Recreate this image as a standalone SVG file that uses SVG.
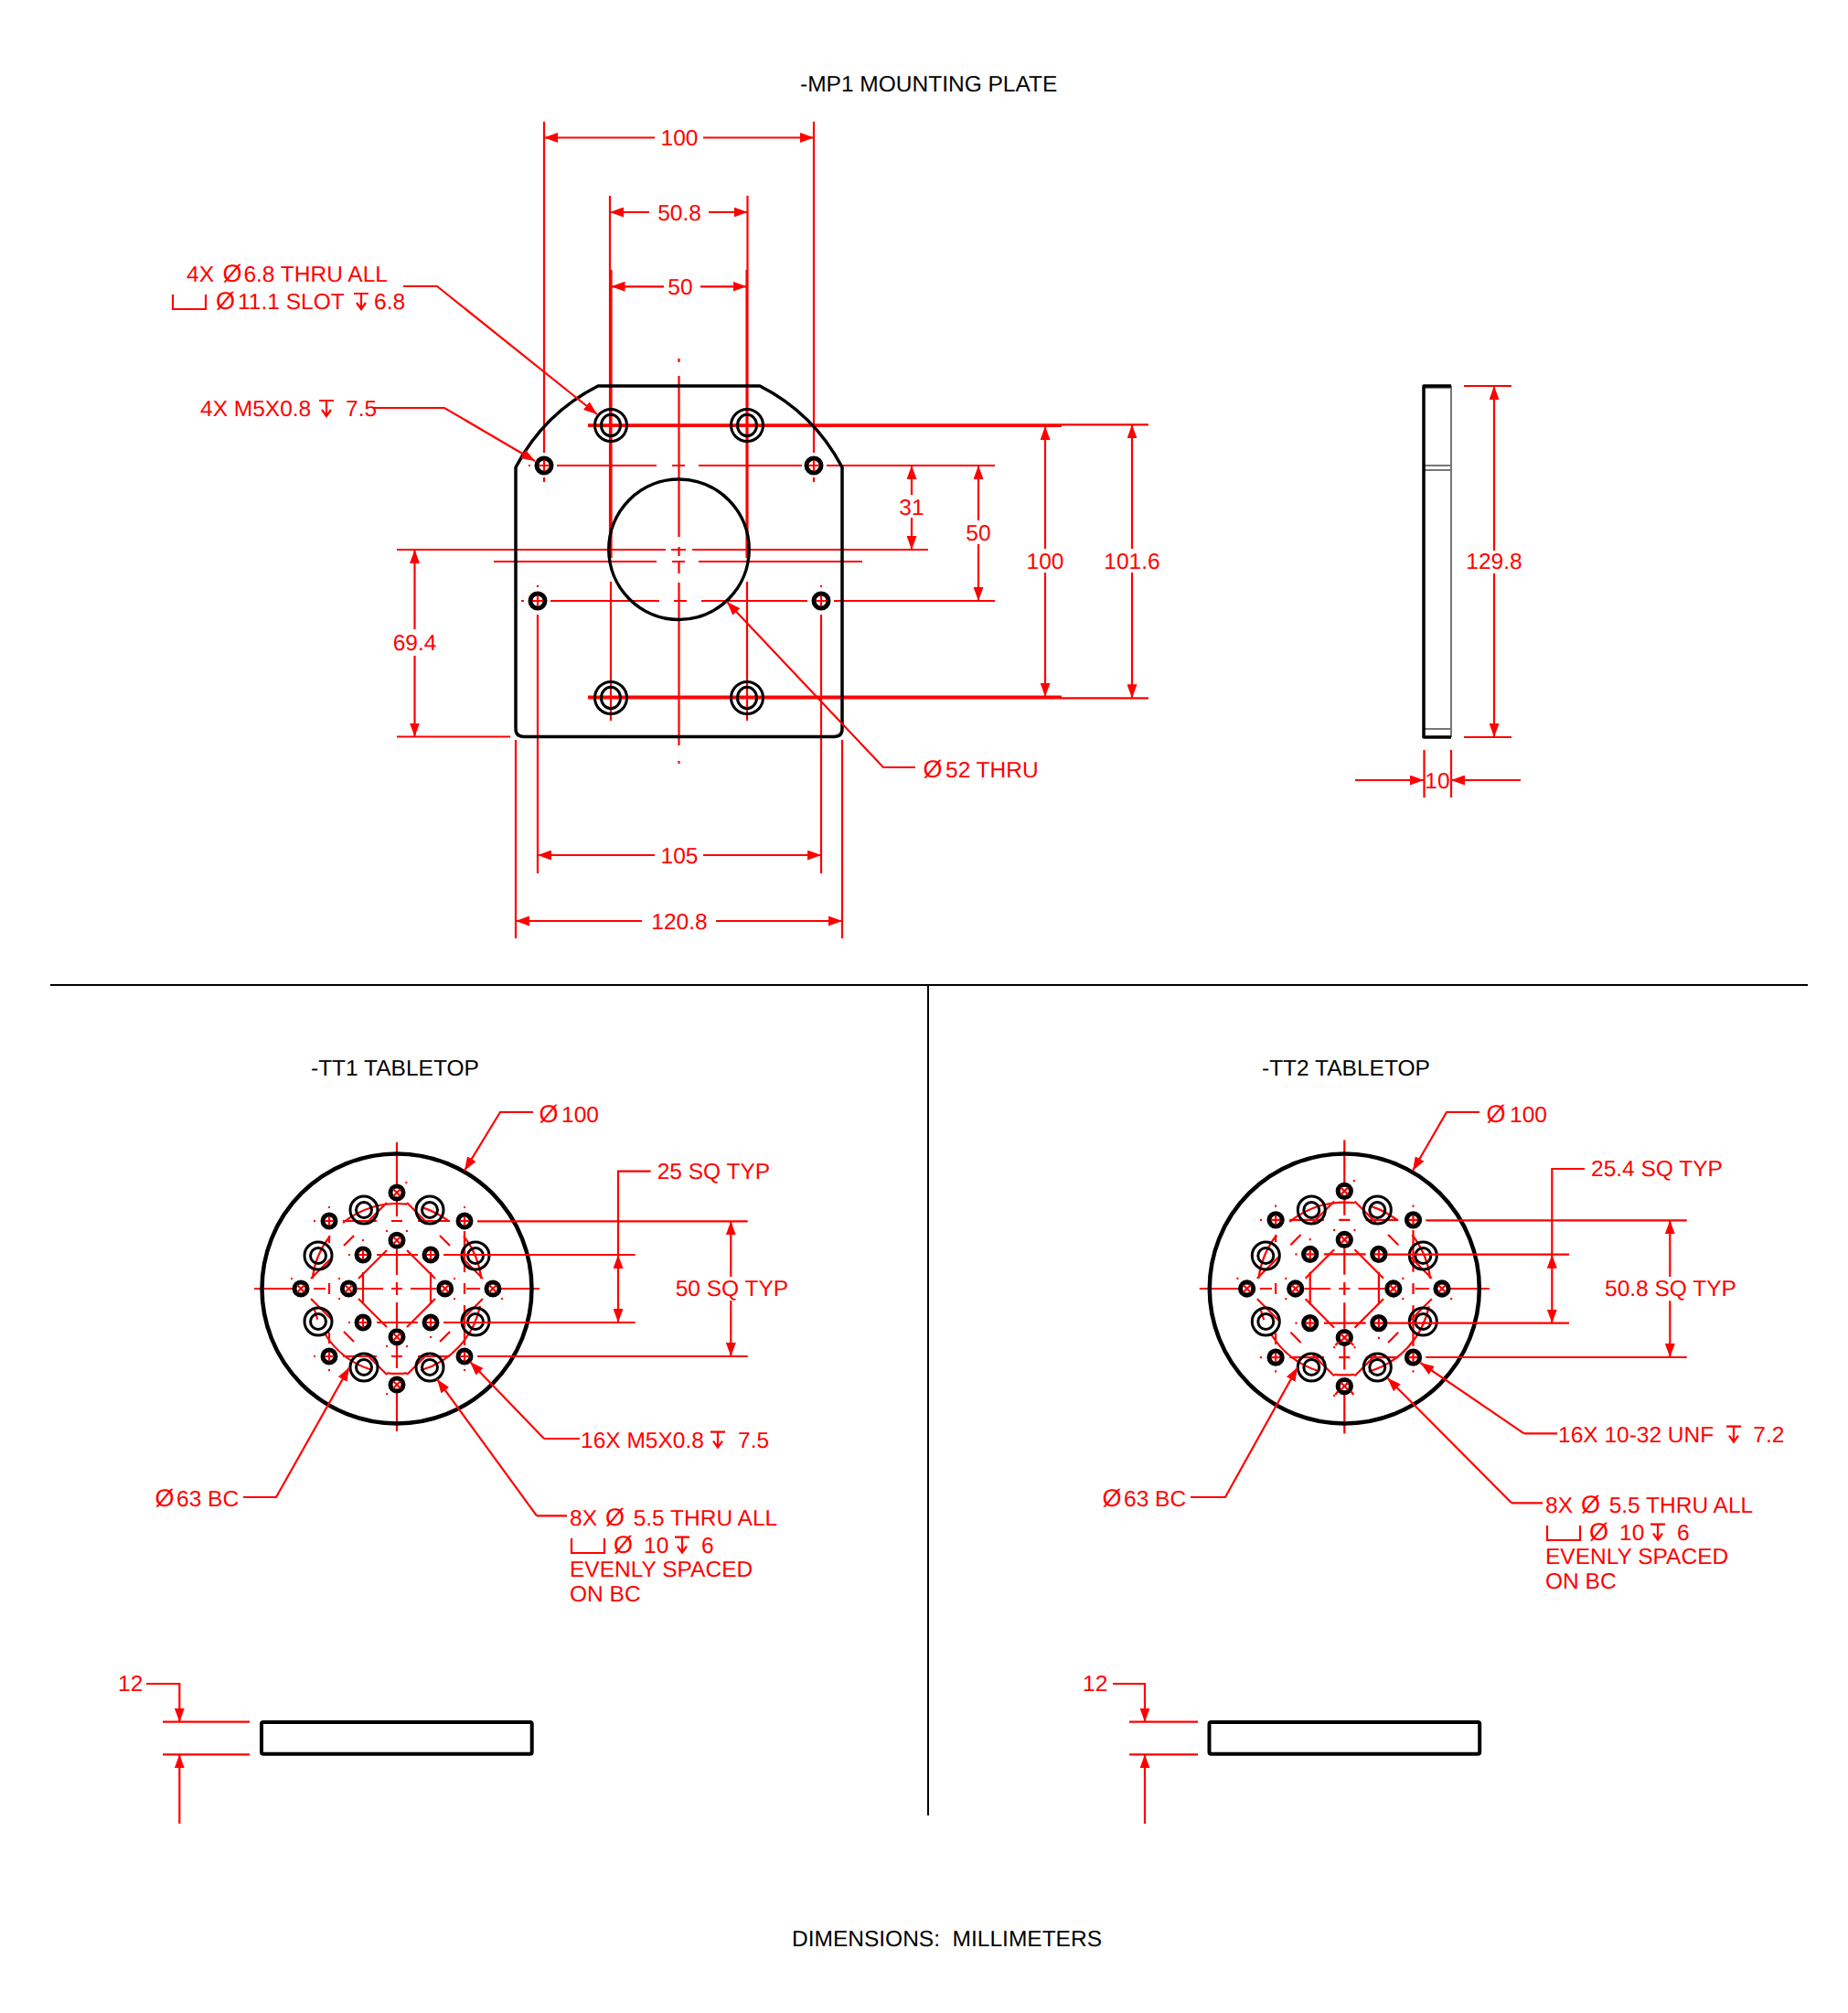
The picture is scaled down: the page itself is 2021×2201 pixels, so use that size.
<svg xmlns="http://www.w3.org/2000/svg" xmlns:xlink="http://www.w3.org/1999/xlink" width="2021" height="2201" viewBox="0 0 2021 2201">
<style>
text{font-family:"Liberation Sans",Arial,sans-serif;font-size:24.5px;fill:#f00;text-rendering:geometricPrecision}
text.k{fill:#000}
text.m{text-anchor:middle}
.d{font-size:27px}
.r{fill:none;stroke:#f00;stroke-width:2.2}
.a{fill:none;stroke:#f00;stroke-width:2.2;marker-end:url(#ah)}
.aa{fill:none;stroke:#f00;stroke-width:2.2;marker-start:url(#ah);marker-end:url(#ah)}
.as{fill:none;stroke:#f00;stroke-width:2.2;marker-start:url(#ah)}
.b{fill:none;stroke:#000;stroke-width:3.5;stroke-linejoin:round}
.o{fill:none;stroke:#000;stroke-width:3}
.s{fill:none;stroke:#000;stroke-width:5}
.g{fill:none;stroke:#777;stroke-width:2}
</style>
<defs>
<marker id="ah" viewBox="0 0 15 11" refX="15" refY="5.5" markerWidth="15" markerHeight="11" markerUnits="userSpaceOnUse" orient="auto-start-reverse"><path d="M0,0L15,5.5L0,11Z" fill="#f00"/></marker>
<g id="depth" class="r"><path d="M0,-17H16M8,-17V0M3,-7L8,0L13,-7"/></g>
<g id="cbore" class="r"><path d="M0,0V16H36V0"/></g>
<g id="hp"><circle r="7" class="s"/><path class="r" d="M-5,0H5M0,-5V5"/></g>
<g id="hx"><circle r="7" class="s"/><path class="r" d="M-4,-4L4,4M-4,4L4,-4"/></g>
<g id="lg"><circle r="15" class="o"/><circle r="8.5" class="o"/></g>
<g id="big"><circle r="17.5" class="o"/><ellipse rx="10.5" ry="11.7" class="o"/></g>
<g id="plh"><circle r="8" class="s"/><path class="r" d="M-6,0H6M0,-6V6"/></g>
<g id="ring">
<path class="r" d="M-156,0H-114M-91,0H-78M-43,0H-15M-6,0H6M15,0H43M76,0H91M114,0H156M0,-160V-114M0,-97V-79M0,-43V-15M0,-7V7M0,15V43M0,61V87M0,114V156"/>
<path class="r" d="M-59,-74H-22M-6,-74H6M23,-74H58M-59,74H-22M-6,74H6M23,74H58M-22,-37H23M-22,37H23M-37,-18V17M37,-18V17M74,-63V-18M74,-6V6M74,18V62M-74,-6V6M-74,-58V-50M-74,48V60"/>
<path class="r" d="M-11,-42L-42,-11M11,-42L42,-11M-11,42L-42,11M11,42L42,11"/>
<path class="r" d="M-11,-94L-34,-71M-47,-58L-58,-47M-71,-34L-94,-11M11,-94L34,-71M47,-58L58,-47M71,-34L94,-11M94,11L71,34M58,47L47,58M34,71L11,94M-11,94L-34,71M-47,58L-58,47M-71,34L-94,11"/>
<path class="r" d="M-59,-72A93,93 0 0 1 11,-92.3M29,-88.4A93,93 0 0 1 56,-74.3M-92.3,-11A93,93 0 0 1 -73,-57.6M73,-57.6A93,93 0 0 1 92.3,-11M91,19A93,93 0 0 1 26,89.3M11,92.3A93,93 0 0 1 -11,92.3M-27,89A93,93 0 0 1 -79,49M-86.7,33.6A93,93 0 0 1 -90,23"/>
<path class="r" d="M9.3,-116h2M-116,-11h2M-64,-11h2M-64,11h2M-12,-63h2M10,-63h2M62,-11h2M62,11h2M114,11h2M-12,63h2M10,63h2M-12,115h2M-91,-74h2M-75,-89h2M73,-89h2M-91,74h2M-75,89h2M73,89h2M-53,37h2M-53,-37h2M-38,-53h2M36,53h2"/>
<use href="#hp" x="-74" y="-74"/><use href="#hp" x="74" y="-74"/><use href="#hp" x="-74" y="74"/><use href="#hp" x="74" y="74"/>
<use href="#hp" x="-37" y="-37"/><use href="#hp" x="37" y="-37"/><use href="#hp" x="-37" y="37"/><use href="#hp" x="37" y="37"/>
<use href="#hx" x="0" y="-105"/><use href="#hx" x="0" y="105"/><use href="#hx" x="-105" y="0"/><use href="#hx" x="105" y="0"/>
<use href="#hx" x="0" y="-52.7"/><use href="#hx" x="0" y="52.7"/><use href="#hx" x="-52.7" y="0"/><use href="#hx" x="52.7" y="0"/>
</g>
<g id="lgs">
<use href="#lg" x="-36" y="-86"/><use href="#lg" x="36" y="-86"/><use href="#lg" x="-36" y="86"/><use href="#lg" x="36" y="86"/>
<use href="#lg" x="-86" y="-36"/><use href="#lg" x="86" y="-36"/><use href="#lg" x="-86" y="36"/><use href="#lg" x="86" y="36"/>
</g>
</defs>
<rect width="2021" height="2201" fill="#fff"/>

<g id="frame"><path d="M55,1077H1977M1015,1077V1985" fill="none" stroke="#000" stroke-width="2"/></g>

<g id="titles">
<text class="k" x="875" y="100">-MP1 MOUNTING PLATE</text>
<text class="k" x="340" y="1175.500">-TT1 TABLETOP</text>
<text class="k" x="1380" y="1175.500">-TT2 TABLETOP</text>
<text class="k" x="866" y="2128">DIMENSIONS:&#160; MILLIMETERS</text>
</g>

<g id="mp1-centerlines">
<path class="r" d="M578,509h2M609,509H718M735,509H749M764,509H877M904,509H1088"/>
<path class="r" d="M570,657h3M602,657H721M737,657H751M767,657H883M912,657H1088"/>
<path class="r" d="M434,601H728M734,601H750M757,601H1015"/>
<path class="r" d="M540,614H718M735,614H749M764,614H943"/>
<path class="r" d="M742.500,392V396M742.500,411V587M742.500,598V608M742.500,613V627M742.500,637V815M742.500,832V835"/>
<path class="r" d="M595,133V495M595,522V527M890,133V495M890,522V527"/>
<path class="r" d="M588,640V642M588,672V955M898,640V642M898,672V955"/>
<path class="r" d="M667,214V610M668.500,295V610M816.500,295V610M817.500,214V610M668,636V788M817,636V788"/>
<path class="r" d="M643,464.300H1256M643,466H1161M643,761.700H1161M643,763.300H1256"/>
<path class="r" d="M434,805.500H558M564,809V1026M921,809V1026"/>
</g>

<g id="mp1-plate">
<path class="b" d="M564,511A208,208 0 0 1 654,422H831A208,208 0 0 1 921,511V797Q921,805.5 912,805.5H573Q564,805.5 564,797Z"/>
<circle cx="742.500" cy="600.700" r="76.700" class="b"/>
<use href="#big" x="668" y="465"/><use href="#big" x="817" y="465"/><use href="#big" x="668" y="763"/><use href="#big" x="817" y="763"/>
<use href="#plh" x="595" y="509"/><use href="#plh" x="890" y="509"/><use href="#plh" x="588" y="657"/><use href="#plh" x="898" y="657"/>
</g>

<g id="mp1-side">
<path class="g" d="M1587,422V806M1557,424H1587M1557,509H1587M1557,514H1587M1557,797H1587"/>
<path class="b" d="M1587,806H1557V422H1587"/>
</g>

<g id="mp1-dims">
<path class="as" d="M595,150.500H716"/><path class="a" d="M769,150.500H890"/>
<text class="m" x="743" y="159">100</text>
<path class="as" d="M667,232H710"/><path class="a" d="M775,232H817.500"/>
<text class="m" x="743" y="240.500">50.8</text>
<path class="as" d="M668.500,313.300H726"/><path class="a" d="M766,313.300H816.500"/>
<text class="m" x="744" y="321.500">50</text>
<path class="as" d="M1143,466V600"/><path class="a" d="M1143,626V761.700"/>
<text class="m" x="1143" y="621.500">100</text>
<path class="as" d="M1238,464.300V600"/><path class="a" d="M1238,626V763.300"/>
<text class="m" x="1238" y="621.500">101.6</text>
<path class="as" d="M997,509V541"/><path class="a" d="M997,566V601"/>
<text class="m" x="997" y="562.500">31</text>
<path class="as" d="M1070,509V569"/><path class="a" d="M1070,595V657"/>
<text class="m" x="1070" y="591">50</text>
<path class="as" d="M453.500,601V688"/><path class="a" d="M453.500,717V805.500"/>
<text class="m" x="453.500" y="711">69.4</text>
<path class="as" d="M588,935H716"/><path class="a" d="M769,935H898"/>
<text class="m" x="743" y="943.500">105</text>
<path class="as" d="M564,1007H702"/><path class="a" d="M783,1007H921"/>
<text class="m" x="743" y="1015.500">120.8</text>
<path class="as" d="M1634,422V602"/><path class="a" d="M1634,627V806"/>
<path class="r" d="M1601,422H1653M1601,806H1653M1557.500,820V872M1587,820V872"/>
<text class="m" x="1634" y="621.500">129.8</text>
<path class="a" d="M1482,853H1557"/><path class="a" d="M1663,853H1587"/>
<text class="m" x="1572" y="861.500">10</text>

<path class="a" d="M441,313H478L653,453"/>
<text x="204" y="308">4X <tspan class="d" x="243.500">Ø</tspan><tspan x="266.400">6.8 THRU ALL</tspan></text>
<use href="#cbore" x="189" y="322"/>
<text x="236" y="338"><tspan class="d">Ø</tspan><tspan x="260">11.1 SLOT</tspan><tspan x="409">6.8</tspan></text>
<use href="#depth" x="387" y="338"/>
<path class="a" d="M409,446H486L585,504"/>
<text x="219" y="455">4X M5X0.8<tspan x="378">7.5</tspan></text>
<use href="#depth" x="349" y="455"/>
<path class="a" d="M1001,839H966L795,658"/>
<text x="1009.500" y="850"><tspan class="d">Ø</tspan><tspan x="1034">52 THRU</tspan></text>
</g>

<g id="tt1">
<use href="#ring" x="434" y="1409"/>
<use href="#lgs" x="434" y="1409"/>
<circle cx="434" cy="1409" r="147.500" fill="none" stroke="#000" stroke-width="4.500"/>
<rect x="286" y="1883" width="295.700" height="34.700" rx="2" fill="none" stroke="#000" stroke-width="4"/>
</g>
<g id="tt1-dims">
<path class="a" d="M583,1216H547L508,1280"/>
<text x="589.500" y="1227"><tspan class="d">Ø</tspan><tspan x="614">100</tspan></text>
<path class="r" d="M522,1335.300H817.700M485,1372H694.700M485,1446H694.700M522,1483H817.700"/>
<path class="r" d="M711.700,1280.700H676V1372"/>
<path class="aa" d="M676,1372V1446"/>
<text x="718.700" y="1289">25 SQ TYP</text>
<path class="as" d="M799.300,1335.300V1396"/><path class="a" d="M799.300,1422V1483"/>
<text x="738.700" y="1417">50 SQ TYP</text>
<path class="a" d="M595,1573L514,1489"/><path class="r" d="M595,1573H634"/>
<text x="635" y="1582.700">16X M5X0.8<tspan x="807">7.5</tspan></text>
<use href="#depth" x="777" y="1582.700"/>
<path class="a" d="M587,1657.300L478,1508"/><path class="r" d="M587,1657.300H620"/>
<text x="623" y="1667.700">8X<tspan class="d" x="662">Ø</tspan><tspan x="692.700">5.5 THRU ALL</tspan></text>
<use href="#cbore" x="625" y="1682"/>
<text x="671" y="1697.700"><tspan class="d">Ø</tspan><tspan x="704">10</tspan><tspan x="767">6</tspan></text>
<use href="#depth" x="738" y="1697.700"/>
<text x="623" y="1724">EVENLY SPACED</text>
<text x="623" y="1751">ON BC</text>
<path class="a" d="M266,1637H302L382,1495"/>
<text x="169.500" y="1647"><tspan class="d">Ø</tspan><tspan x="193">63 BC</tspan></text>
<path class="a" d="M160,1841H196.300V1882.700"/>
<path class="r" d="M178,1882.700H273M178,1918.300H273"/>
<path class="a" d="M196.300,1994V1918.300"/>
<text x="129" y="1849">12</text>
</g>

<g id="tt2">
<use href="#ring" transform="translate(1470.300,1409) scale(1.016)"/>
<path class="r" d="M1460.300,1525L1463.300,1521M1480.300,1525L1477.300,1521M1460.300,1471L1464.300,1467M1480.300,1471L1476.300,1467"/>
<use href="#lgs" x="1470.300" y="1409"/>
<circle cx="1470.300" cy="1409" r="147.500" fill="none" stroke="#000" stroke-width="4.500"/>
<rect x="1322.500" y="1883" width="295.700" height="34.700" rx="2" fill="none" stroke="#000" stroke-width="4"/>
</g>
<g id="tt2-dims">
<path class="a" d="M1618,1216H1582L1545,1280"/>
<text x="1625.500" y="1227"><tspan class="d">Ø</tspan><tspan x="1651">100</tspan></text>
<path class="r" d="M1559.300,1334.300H1844.700M1516.700,1371.700H1716M1516.700,1446.700H1716M1559.300,1484H1844.700"/>
<path class="r" d="M1733,1278H1697.300V1371.700"/>
<path class="aa" d="M1697.300,1371.700V1446.700"/>
<text x="1740" y="1286">25.4 SQ TYP</text>
<path class="as" d="M1826.300,1334.300V1396"/><path class="a" d="M1826.300,1422.300V1484"/>
<text x="1755" y="1417">50.8 SQ TYP</text>
<path class="a" d="M1666.700,1567.300L1553.300,1490"/><path class="r" d="M1666.700,1567.300H1703"/>
<text x="1704" y="1576.700">16X 10-32 UNF<tspan x="1917.300">7.2</tspan></text>
<use href="#depth" x="1888" y="1576.700"/>
<path class="a" d="M1653,1643.300L1517.300,1506.700"/><path class="r" d="M1653,1643.300H1687"/>
<text x="1690" y="1653.700">8X<tspan class="d" x="1729">Ø</tspan><tspan x="1759.700">5.5 THRU ALL</tspan></text>
<use href="#cbore" x="1692" y="1668"/>
<text x="1738" y="1683.700"><tspan class="d">Ø</tspan><tspan x="1771">10</tspan><tspan x="1834">6</tspan></text>
<use href="#depth" x="1805" y="1683.700"/>
<text x="1690" y="1710">EVENLY SPACED</text>
<text x="1690" y="1737">ON BC</text>
<path class="a" d="M1302,1637H1340L1419,1495"/>
<text x="1205.500" y="1647"><tspan class="d">Ø</tspan><tspan x="1229">63 BC</tspan></text>
<path class="a" d="M1217,1841H1252V1882.700"/>
<path class="r" d="M1235,1882.700H1310M1235,1918.300H1310"/>
<path class="a" d="M1252,1994V1918.300"/>
<text x="1184" y="1849">12</text>
</g>
</svg>
